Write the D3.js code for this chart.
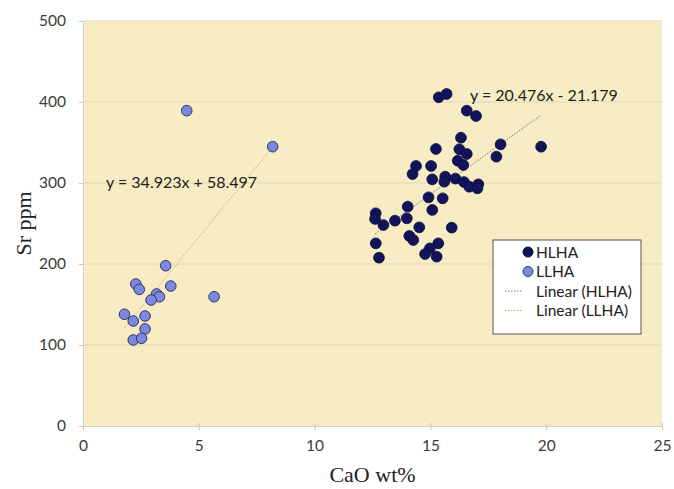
<!DOCTYPE html>
<html>
<head>
<meta charset="utf-8">
<script src="https://cdn.jsdelivr.net/npm/d3@7"></script>
<style>
  body { margin: 0; background: #fff; }
  svg text { font-family: Lato, "Open Sans", sans-serif; }
</style>
</head>
<body>
<script>
// HLHA samples: CaO wt% / Sr ppm
var hlhaCaO = [15.36, 15.70, 16.57, 16.97, 16.32, 18.03, 19.78, 15.24, 16.25, 16.57,
               17.85, 16.18, 16.42, 14.38, 15.03, 14.23, 15.08, 15.64, 15.60, 16.08,
               16.45, 16.68, 17.07, 17.03, 14.92, 15.53, 14.02, 15.08, 12.64, 12.61,
               13.98, 12.97, 13.47, 14.52, 15.92, 14.09, 14.26, 12.64, 15.34, 14.98,
               14.77, 15.27, 12.78];
var hlhaSr  = [405.8, 409.9, 389.3, 382.7, 355.9, 347.7, 344.8, 342.0, 341.6, 335.8,
               332.5, 327.5, 322.2, 321.0, 321.0, 311.0, 304.5, 307.8, 301.6, 305.4,
               301.2, 295.4, 298.4, 293.4, 282.3, 281.1, 270.8, 266.7, 262.6, 255.6,
               256.4, 248.1, 253.5, 245.3, 244.9, 234.6, 229.6, 225.5, 225.5, 219.3,
               212.3, 209.1, 207.8];

// LLHA samples
var llhaCaO = [4.48, 8.19, 3.57, 2.28, 2.43, 3.79, 3.18, 3.30, 2.94, 5.66,
               1.79, 2.68, 2.17, 2.68, 2.17, 2.53];
var llhaSr  = [389.3, 344.8, 197.9, 175.3, 168.7, 172.8, 163.0, 159.6, 155.6, 159.6,
               137.9, 135.8, 129.6, 119.8, 106.2, 108.3];

// linear fits as printed on the chart
var hlhaFit = {slope: 20.476, intercept: -21.179, label: "y = 20.476x - 21.179"};
var llhaFit = {slope: 34.923, intercept: 58.497, label: "y = 34.923x + 58.497"};

var xTicks = [0, 5, 10, 15, 20, 25];
var yTicks = [0, 100, 200, 300, 400, 500];
var legendLabels = ["HLHA", "LLHA", "Linear (HLHA)", "Linear (LLHA)"];

var width = 674, height = 489;
var plot = {left: 83, right: 662, top: 21, bottom: 426};

var svg = d3.select("body").append("svg")
    .attr("width", width)
    .attr("height", height);

var x = d3.scaleLinear().domain([0, 25]).range([plot.left, plot.right]);
var y = d3.scaleLinear().domain([0, 500]).range([plot.bottom, plot.top]);

// plot background
svg.append("rect")
    .attr("x", plot.left).attr("y", plot.top)
    .attr("width", plot.right - plot.left)
    .attr("height", plot.bottom - plot.top)
    .attr("fill", "#f7ecc4");

// horizontal gridlines
svg.append("g").selectAll("line")
    .data(yTicks.slice(1))
  .enter().append("line")
    .attr("x1", plot.left).attr("x2", plot.right)
    .attr("y1", function(d) { return y(d); })
    .attr("y2", function(d) { return y(d); })
    .attr("stroke", "#e2d8b4")
    .attr("stroke-width", 1);

// axes
var xAxis = d3.axisBottom(x).tickValues(xTicks).tickSize(4).tickPadding(10);
var yAxis = d3.axisLeft(y).tickValues(yTicks).tickSize(4).tickPadding(13);

var gx = svg.append("g")
    .attr("transform", "translate(0," + plot.bottom + ")")
    .call(xAxis);
var gy = svg.append("g")
    .attr("transform", "translate(" + plot.left + ",0)")
    .call(yAxis);

[gx, gy].forEach(function(g) {
  g.select(".domain").attr("stroke", "#d0d0d0");
  g.selectAll(".tick line").attr("stroke", "#c8c8c8");
  g.selectAll(".tick text")
      .attr("fill", "#3a3a3a")
      .style("font-size", "15.5px")
      .style("font-family", "Lato, sans-serif");
});
gx.selectAll(".tick line").attr("y1", -3);

// axis titles
svg.append("text")
    .attr("x", (plot.left + plot.right) / 2)
    .attr("y", 482)
    .attr("text-anchor", "middle")
    .style("font-family", "'Liberation Serif', 'DejaVu Serif', serif")
    .style("font-size", "22px")
    .attr("fill", "#222")
    .text("CaO wt%");

svg.append("text")
    .attr("transform", "translate(31," + ((plot.top + plot.bottom) / 2) + ") rotate(-90)")
    .attr("text-anchor", "middle")
    .style("font-family", "'Liberation Serif', 'DejaVu Serif', serif")
    .style("font-size", "22px")
    .attr("fill", "#222")
    .text("Sr ppm");

// trend lines over each group's CaO range
function trend(xs, fit) {
  var lo = d3.min(xs), hi = d3.max(xs);
  return [[lo, fit.slope * lo + fit.intercept], [hi, fit.slope * hi + fit.intercept]];
}
var line = d3.line()
    .x(function(d) { return x(d[0]); })
    .y(function(d) { return y(d[1]); });

svg.append("path")
    .attr("d", line(trend(hlhaCaO, hlhaFit)))
    .attr("fill", "none")
    .attr("stroke", "#6a7699")
    .attr("stroke-width", 1)
    .attr("stroke-dasharray", "1.5,1.5");

svg.append("path")
    .attr("d", line(trend(llhaCaO, llhaFit)))
    .attr("fill", "none")
    .attr("stroke", "#d3a85c")
    .attr("stroke-width", 1)
    .attr("stroke-dasharray", "1.5,1.5");

// points
var hlha = hlhaCaO.map(function(v, i) { return {x: v, y: hlhaSr[i]}; });
var llha = llhaCaO.map(function(v, i) { return {x: v, y: llhaSr[i]}; });

svg.append("g").selectAll("circle")
    .data(llha)
  .enter().append("circle")
    .attr("cx", function(d) { return x(d.x); })
    .attr("cy", function(d) { return y(d.y); })
    .attr("r", 5.3)
    .attr("fill", "#7c88da")
    .attr("stroke", "#2e3372")
    .attr("stroke-width", 1);

svg.append("g").selectAll("circle")
    .data(hlha)
  .enter().append("circle")
    .attr("cx", function(d) { return x(d.x); })
    .attr("cy", function(d) { return y(d.y); })
    .attr("r", 5.4)
    .attr("fill", "#12145a")
    .attr("stroke", "#0a0c3c")
    .attr("stroke-width", 0.8);

// equation labels
svg.append("text")
    .attr("x", 470).attr("y", 101)
    .style("font-size", "16px")
    .attr("fill", "#222")
    .text(hlhaFit.label);

svg.append("text")
    .attr("x", 106).attr("y", 188)
    .style("font-size", "16px")
    .attr("fill", "#222")
    .text(llhaFit.label);

// legend
var legend = svg.append("g").attr("transform", "translate(493,240)");
legend.append("rect")
    .attr("width", 148).attr("height", 94)
    .attr("fill", "#fff")
    .attr("stroke", "#555")
    .attr("stroke-width", 1);

var items = legend.selectAll("g.item")
    .data(legendLabels)
  .enter().append("g")
    .attr("class", "item")
    .attr("transform", function(d, i) { return "translate(0," + (12 + i * 19.5) + ")"; });

items.each(function(d, i) {
  var g = d3.select(this);
  if (i < 2) {
    g.append("circle")
        .attr("cx", 35).attr("cy", 0).attr("r", 5)
        .attr("fill", i === 0 ? "#12145a" : "#7c88da")
        .attr("stroke", i === 0 ? "#0a0c3c" : "#2e3372");
  } else {
    g.append("line")
        .attr("x1", 12).attr("x2", 30)
        .attr("y1", 0).attr("y2", 0)
        .attr("stroke", i === 2 ? "#6a7699" : "#d3a85c")
        .attr("stroke-dasharray", "1.5,1.5");
  }
  g.append("text")
      .attr("x", 43)
      .attr("y", 5.5)
      .style("font-size", "15.5px")
      .attr("fill", "#222")
      .text(d);
});
</script>
</body>
</html>
